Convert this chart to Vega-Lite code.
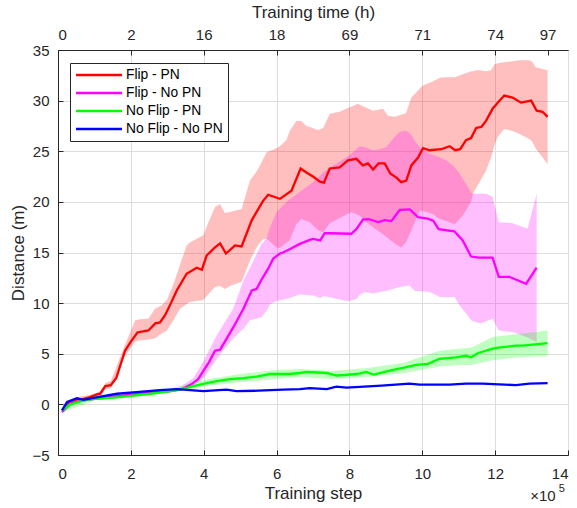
{
  "$schema": "https://vega.github.io/schema/vega-lite/v6.json",
  "width": 510,
  "height": 405,
  "autosize": {"type": "none"},
  "padding": {"left": 58, "top": 50, "right": 9, "bottom": 53},
  "background": "white",
  "config": {
    "font": "Liberation Sans",
    "view": {"stroke": "#262626", "strokeWidth": 1},
    "axis": {
      "labelFont": "Liberation Sans", "labelFontSize": 15, "labelColor": "#262626",
      "titleFont": "Liberation Sans", "titleFontSize": 17, "titleFontWeight": "normal", "titleColor": "#262626",
      "domainColor": "#262626", "tickColor": "#262626", "tickSize": -5, "gridColor": "#dedede"
    }
  },
  "datasets": {
    "bands": [
      {"s":"Flip - PN","x":0.11,"lo":-0.8,"hi":-0.4},{"s":"Flip - PN","x":0.5,"lo":0.3,"hi":0.7},{"s":"Flip - PN","x":0.9,"lo":0.5,"hi":0.95},{"s":"Flip - PN","x":1.16,"lo":0.8,"hi":1.3},{"s":"Flip - PN","x":1.3,"lo":1.5,"hi":2.1},{"s":"Flip - PN","x":1.45,"lo":1.6,"hi":2.3},{"s":"Flip - PN","x":1.84,"lo":4.8,"hi":5.9},{"s":"Flip - PN","x":2.12,"lo":6.2,"hi":8.3},{"s":"Flip - PN","x":2.25,"lo":6.3,"hi":8.4},{"s":"Flip - PN","x":2.48,"lo":6.4,"hi":8.45},{"s":"Flip - PN","x":2.66,"lo":6.5,"hi":9.45},{"s":"Flip - PN","x":2.85,"lo":7.0,"hi":9.8},{"s":"Flip - PN","x":2.99,"lo":7.3,"hi":10.3},{"s":"Flip - PN","x":3.17,"lo":8.3,"hi":11.9},{"s":"Flip - PN","x":3.35,"lo":9.45,"hi":13.8},{"s":"Flip - PN","x":3.53,"lo":9.9,"hi":15.7},{"s":"Flip - PN","x":3.62,"lo":10.1,"hi":16.0},{"s":"Flip - PN","x":3.81,"lo":10.2,"hi":16.35},{"s":"Flip - PN","x":3.99,"lo":10.3,"hi":16.7},{"s":"Flip - PN","x":4.13,"lo":10.9,"hi":18.0},{"s":"Flip - PN","x":4.31,"lo":11.6,"hi":19.5},{"s":"Flip - PN","x":4.45,"lo":11.7,"hi":19.8},{"s":"Flip - PN","x":4.58,"lo":11.4,"hi":18.9},{"s":"Flip - PN","x":4.72,"lo":11.7,"hi":19.0},{"s":"Flip - PN","x":5.04,"lo":12.1,"hi":19.3},{"s":"Flip - PN","x":5.27,"lo":14.2,"hi":22.1},{"s":"Flip - PN","x":5.45,"lo":15.5,"hi":23.0},{"s":"Flip - PN","x":5.5,"lo":15.8,"hi":23.3},{"s":"Flip - PN","x":5.63,"lo":16.3,"hi":24.2},{"s":"Flip - PN","x":5.73,"lo":16.35,"hi":24.9},{"s":"Flip - PN","x":6.0,"lo":15.5,"hi":25.3},{"s":"Flip - PN","x":6.09,"lo":15.45,"hi":25.5},{"s":"Flip - PN","x":6.27,"lo":16.0,"hi":26.1},{"s":"Flip - PN","x":6.36,"lo":16.2,"hi":27.0},{"s":"Flip - PN","x":6.54,"lo":17.8,"hi":28.0},{"s":"Flip - PN","x":6.68,"lo":18.3,"hi":28.0},{"s":"Flip - PN","x":6.82,"lo":18.1,"hi":27.5},{"s":"Flip - PN","x":6.91,"lo":18.0,"hi":27.4},{"s":"Flip - PN","x":7.14,"lo":17.2,"hi":27.1},{"s":"Flip - PN","x":7.28,"lo":17.0,"hi":27.3},{"s":"Flip - PN","x":7.46,"lo":17.9,"hi":28.7},{"s":"Flip - PN","x":7.73,"lo":18.4,"hi":28.9},{"s":"Flip - PN","x":8.0,"lo":18.9,"hi":29.35},{"s":"Flip - PN","x":8.05,"lo":19.0,"hi":29.4},{"s":"Flip - PN","x":8.23,"lo":18.7,"hi":29.7},{"s":"Flip - PN","x":8.28,"lo":18.65,"hi":29.6},{"s":"Flip - PN","x":8.46,"lo":18.0,"hi":29.3},{"s":"Flip - PN","x":8.65,"lo":17.5,"hi":29.0},{"s":"Flip - PN","x":8.92,"lo":16.8,"hi":29.2},{"s":"Flip - PN","x":9.06,"lo":16.4,"hi":28.5},{"s":"Flip - PN","x":9.24,"lo":15.9,"hi":28.4},{"s":"Flip - PN","x":9.42,"lo":15.5,"hi":28.6},{"s":"Flip - PN","x":9.55,"lo":16.0,"hi":28.75},{"s":"Flip - PN","x":9.7,"lo":17.2,"hi":30.3},{"s":"Flip - PN","x":9.93,"lo":19.15,"hi":31.2},{"s":"Flip - PN","x":10.02,"lo":19.1,"hi":31.5},{"s":"Flip - PN","x":10.29,"lo":18.8,"hi":31.9},{"s":"Flip - PN","x":10.48,"lo":18.3,"hi":32.25},{"s":"Flip - PN","x":10.62,"lo":18.15,"hi":32.3},{"s":"Flip - PN","x":10.89,"lo":17.8,"hi":32.3},{"s":"Flip - PN","x":11.11,"lo":18.65,"hi":32.6},{"s":"Flip - PN","x":11.34,"lo":20.0,"hi":32.9},{"s":"Flip - PN","x":11.39,"lo":20.8,"hi":32.9},{"s":"Flip - PN","x":11.48,"lo":21.4,"hi":33.0},{"s":"Flip - PN","x":11.57,"lo":21.95,"hi":33.0},{"s":"Flip - PN","x":11.75,"lo":23.1,"hi":32.9},{"s":"Flip - PN","x":11.89,"lo":24.4,"hi":33.0},{"s":"Flip - PN","x":11.98,"lo":25.6,"hi":33.6},{"s":"Flip - PN","x":12.07,"lo":26.4,"hi":33.7},{"s":"Flip - PN","x":12.25,"lo":27.2,"hi":33.8},{"s":"Flip - PN","x":12.48,"lo":27.0,"hi":33.9},{"s":"Flip - PN","x":12.67,"lo":26.7,"hi":34.0},{"s":"Flip - PN","x":12.94,"lo":26.2,"hi":34.0},{"s":"Flip - PN","x":13.03,"lo":25.9,"hi":33.8},{"s":"Flip - PN","x":13.11,"lo":25.3,"hi":33.3},{"s":"Flip - PN","x":13.44,"lo":23.75,"hi":33.0},
      {"s":"Flip - No PN","x":0.11,"lo":-0.9,"hi":-0.6},{"s":"Flip - No PN","x":0.5,"lo":0.2,"hi":0.4},{"s":"Flip - No PN","x":1.0,"lo":0.5,"hi":0.7},{"s":"Flip - No PN","x":2.0,"lo":0.85,"hi":1.05},{"s":"Flip - No PN","x":3.0,"lo":1.2,"hi":1.45},{"s":"Flip - No PN","x":3.3,"lo":1.3,"hi":1.6},{"s":"Flip - No PN","x":3.72,"lo":1.8,"hi":2.6},{"s":"Flip - No PN","x":4.0,"lo":2.6,"hi":4.3},{"s":"Flip - No PN","x":4.31,"lo":4.2,"hi":6.5},{"s":"Flip - No PN","x":4.54,"lo":5.4,"hi":7.9},{"s":"Flip - No PN","x":4.81,"lo":6.5,"hi":9.45},{"s":"Flip - No PN","x":5.09,"lo":7.5,"hi":12.2},{"s":"Flip - No PN","x":5.27,"lo":8.3,"hi":13.5},{"s":"Flip - No PN","x":5.59,"lo":8.6,"hi":15.85},{"s":"Flip - No PN","x":5.73,"lo":9.3,"hi":16.4},{"s":"Flip - No PN","x":5.82,"lo":9.9,"hi":17.5},{"s":"Flip - No PN","x":6.0,"lo":10.2,"hi":19.0},{"s":"Flip - No PN","x":6.27,"lo":10.4,"hi":20.0},{"s":"Flip - No PN","x":6.64,"lo":10.85,"hi":21.0},{"s":"Flip - No PN","x":7.0,"lo":10.75,"hi":21.95},{"s":"Flip - No PN","x":7.2,"lo":10.5,"hi":22.6},{"s":"Flip - No PN","x":7.28,"lo":10.7,"hi":22.9},{"s":"Flip - No PN","x":7.55,"lo":10.5,"hi":23.6},{"s":"Flip - No PN","x":7.92,"lo":10.2,"hi":24.4},{"s":"Flip - No PN","x":8.0,"lo":10.2,"hi":24.6},{"s":"Flip - No PN","x":8.19,"lo":10.4,"hi":25.2},{"s":"Flip - No PN","x":8.28,"lo":10.8,"hi":25.5},{"s":"Flip - No PN","x":8.42,"lo":11.1,"hi":25.4},{"s":"Flip - No PN","x":8.65,"lo":10.95,"hi":25.1},{"s":"Flip - No PN","x":8.83,"lo":11.1,"hi":25.2},{"s":"Flip - No PN","x":9.01,"lo":11.2,"hi":25.4},{"s":"Flip - No PN","x":9.19,"lo":11.4,"hi":26.2},{"s":"Flip - No PN","x":9.38,"lo":11.6,"hi":26.9},{"s":"Flip - No PN","x":9.55,"lo":11.7,"hi":27.05},{"s":"Flip - No PN","x":9.65,"lo":11.75,"hi":26.8},{"s":"Flip - No PN","x":9.74,"lo":11.4,"hi":26.4},{"s":"Flip - No PN","x":9.8,"lo":11.2,"hi":26.0},{"s":"Flip - No PN","x":9.93,"lo":11.2,"hi":25.4},{"s":"Flip - No PN","x":10.2,"lo":11.1,"hi":24.75},{"s":"Flip - No PN","x":10.38,"lo":10.8,"hi":24.5},{"s":"Flip - No PN","x":10.47,"lo":10.6,"hi":24.4},{"s":"Flip - No PN","x":10.65,"lo":10.6,"hi":24.1},{"s":"Flip - No PN","x":10.84,"lo":10.6,"hi":23.6},{"s":"Flip - No PN","x":10.89,"lo":10.6,"hi":23.4},{"s":"Flip - No PN","x":11.02,"lo":9.8,"hi":22.8},{"s":"Flip - No PN","x":11.2,"lo":9.0,"hi":21.8},{"s":"Flip - No PN","x":11.34,"lo":8.3,"hi":20.9},{"s":"Flip - No PN","x":11.39,"lo":8.2,"hi":20.8},{"s":"Flip - No PN","x":11.62,"lo":8.0,"hi":20.8},{"s":"Flip - No PN","x":11.75,"lo":8.2,"hi":20.8},{"s":"Flip - No PN","x":11.93,"lo":8.45,"hi":20.5},{"s":"Flip - No PN","x":12.1,"lo":7.3,"hi":18.0},{"s":"Flip - No PN","x":12.48,"lo":7.15,"hi":17.9},{"s":"Flip - No PN","x":12.89,"lo":6.6,"hi":17.35},{"s":"Flip - No PN","x":13.14,"lo":6.15,"hi":20.8},
      {"s":"No Flip - PN","x":0.11,"lo":-0.8,"hi":-0.4},{"s":"No Flip - PN","x":1.0,"lo":0.4,"hi":0.7},{"s":"No Flip - PN","x":2.0,"lo":0.7,"hi":1.0},{"s":"No Flip - PN","x":3.0,"lo":1.1,"hi":1.5},{"s":"No Flip - PN","x":4.0,"lo":1.8,"hi":2.4},{"s":"No Flip - PN","x":5.0,"lo":2.2,"hi":3.0},{"s":"No Flip - PN","x":6.0,"lo":2.5,"hi":3.4},{"s":"No Flip - PN","x":6.64,"lo":2.7,"hi":3.5},{"s":"No Flip - PN","x":7.5,"lo":2.5,"hi":3.3},{"s":"No Flip - PN","x":8.5,"lo":2.7,"hi":3.6},{"s":"No Flip - PN","x":9.5,"lo":3.1,"hi":4.1},{"s":"No Flip - PN","x":10.47,"lo":3.75,"hi":5.3},{"s":"No Flip - PN","x":11.0,"lo":3.9,"hi":5.5},{"s":"No Flip - PN","x":11.34,"lo":3.9,"hi":5.6},{"s":"No Flip - PN","x":11.93,"lo":4.35,"hi":6.65},{"s":"No Flip - PN","x":12.5,"lo":4.6,"hi":6.9},{"s":"No Flip - PN","x":13.0,"lo":4.7,"hi":7.1},{"s":"No Flip - PN","x":13.44,"lo":4.75,"hi":7.3}
    ],
    "lines": [
      {"s":"Flip - PN","x":0.11,"y":-0.6},{"s":"Flip - PN","x":0.3,"y":0.15},{"s":"Flip - PN","x":0.52,"y":0.5},{"s":"Flip - PN","x":0.7,"y":0.55},{"s":"Flip - PN","x":0.88,"y":0.72},{"s":"Flip - PN","x":1.07,"y":0.99},{"s":"Flip - PN","x":1.16,"y":1.05},{"s":"Flip - PN","x":1.3,"y":1.8},{"s":"Flip - PN","x":1.45,"y":1.9},{"s":"Flip - PN","x":1.6,"y":2.6},{"s":"Flip - PN","x":1.84,"y":5.3},{"s":"Flip - PN","x":2.0,"y":6.2},{"s":"Flip - PN","x":2.18,"y":7.1},{"s":"Flip - PN","x":2.48,"y":7.3},{"s":"Flip - PN","x":2.67,"y":8.0},{"s":"Flip - PN","x":2.8,"y":8.1},{"s":"Flip - PN","x":2.94,"y":8.8},{"s":"Flip - PN","x":3.1,"y":10.0},{"s":"Flip - PN","x":3.26,"y":11.25},{"s":"Flip - PN","x":3.53,"y":12.9},{"s":"Flip - PN","x":3.81,"y":13.5},{"s":"Flip - PN","x":3.95,"y":13.3},{"s":"Flip - PN","x":4.08,"y":14.7},{"s":"Flip - PN","x":4.31,"y":15.5},{"s":"Flip - PN","x":4.45,"y":15.9},{"s":"Flip - PN","x":4.61,"y":14.9},{"s":"Flip - PN","x":4.86,"y":15.7},{"s":"Flip - PN","x":5.04,"y":15.6},{"s":"Flip - PN","x":5.32,"y":18.2},{"s":"Flip - PN","x":5.63,"y":20.1},{"s":"Flip - PN","x":5.77,"y":20.7},{"s":"Flip - PN","x":6.09,"y":20.3},{"s":"Flip - PN","x":6.41,"y":21.1},{"s":"Flip - PN","x":6.66,"y":23.3},{"s":"Flip - PN","x":6.84,"y":22.85},{"s":"Flip - PN","x":7.0,"y":22.5},{"s":"Flip - PN","x":7.19,"y":22.0},{"s":"Flip - PN","x":7.3,"y":21.9},{"s":"Flip - PN","x":7.46,"y":23.3},{"s":"Flip - PN","x":7.73,"y":23.4},{"s":"Flip - PN","x":7.96,"y":24.1},{"s":"Flip - PN","x":8.19,"y":24.25},{"s":"Flip - PN","x":8.37,"y":23.6},{"s":"Flip - PN","x":8.51,"y":23.8},{"s":"Flip - PN","x":8.65,"y":23.2},{"s":"Flip - PN","x":8.8,"y":23.8},{"s":"Flip - PN","x":8.97,"y":23.8},{"s":"Flip - PN","x":9.12,"y":22.8},{"s":"Flip - PN","x":9.29,"y":22.4},{"s":"Flip - PN","x":9.42,"y":21.95},{"s":"Flip - PN","x":9.56,"y":22.1},{"s":"Flip - PN","x":9.7,"y":23.6},{"s":"Flip - PN","x":9.88,"y":24.35},{"s":"Flip - PN","x":10.02,"y":25.3},{"s":"Flip - PN","x":10.2,"y":25.1},{"s":"Flip - PN","x":10.52,"y":25.2},{"s":"Flip - PN","x":10.75,"y":25.5},{"s":"Flip - PN","x":10.9,"y":25.1},{"s":"Flip - PN","x":11.04,"y":25.2},{"s":"Flip - PN","x":11.2,"y":26.1},{"s":"Flip - PN","x":11.34,"y":26.3},{"s":"Flip - PN","x":11.48,"y":27.3},{"s":"Flip - PN","x":11.62,"y":27.4},{"s":"Flip - PN","x":11.75,"y":28.0},{"s":"Flip - PN","x":11.93,"y":29.2},{"s":"Flip - PN","x":12.07,"y":29.8},{"s":"Flip - PN","x":12.25,"y":30.5},{"s":"Flip - PN","x":12.48,"y":30.3},{"s":"Flip - PN","x":12.71,"y":29.8},{"s":"Flip - PN","x":12.99,"y":30.0},{"s":"Flip - PN","x":13.14,"y":29.0},{"s":"Flip - PN","x":13.3,"y":28.9},{"s":"Flip - PN","x":13.44,"y":28.4},
      {"s":"Flip - No PN","x":0.11,"y":-0.75},{"s":"Flip - No PN","x":0.34,"y":0.1},{"s":"Flip - No PN","x":0.7,"y":0.4},{"s":"Flip - No PN","x":1.0,"y":0.55},{"s":"Flip - No PN","x":1.6,"y":0.8},{"s":"Flip - No PN","x":2.0,"y":0.95},{"s":"Flip - No PN","x":2.53,"y":1.15},{"s":"Flip - No PN","x":3.08,"y":1.3},{"s":"Flip - No PN","x":3.4,"y":1.5},{"s":"Flip - No PN","x":3.67,"y":2.0},{"s":"Flip - No PN","x":3.85,"y":2.5},{"s":"Flip - No PN","x":3.99,"y":3.3},{"s":"Flip - No PN","x":4.15,"y":4.2},{"s":"Flip - No PN","x":4.31,"y":5.3},{"s":"Flip - No PN","x":4.45,"y":5.4},{"s":"Flip - No PN","x":4.63,"y":6.5},{"s":"Flip - No PN","x":4.81,"y":7.6},{"s":"Flip - No PN","x":5.09,"y":9.45},{"s":"Flip - No PN","x":5.32,"y":11.25},{"s":"Flip - No PN","x":5.45,"y":11.4},{"s":"Flip - No PN","x":5.6,"y":12.4},{"s":"Flip - No PN","x":5.77,"y":13.4},{"s":"Flip - No PN","x":5.91,"y":14.4},{"s":"Flip - No PN","x":6.09,"y":14.9},{"s":"Flip - No PN","x":6.18,"y":15.0},{"s":"Flip - No PN","x":6.4,"y":15.4},{"s":"Flip - No PN","x":6.64,"y":15.85},{"s":"Flip - No PN","x":6.91,"y":16.25},{"s":"Flip - No PN","x":7.0,"y":16.35},{"s":"Flip - No PN","x":7.2,"y":16.2},{"s":"Flip - No PN","x":7.32,"y":16.9},{"s":"Flip - No PN","x":7.46,"y":16.9},{"s":"Flip - No PN","x":8.05,"y":16.85},{"s":"Flip - No PN","x":8.19,"y":17.3},{"s":"Flip - No PN","x":8.37,"y":18.25},{"s":"Flip - No PN","x":8.53,"y":18.3},{"s":"Flip - No PN","x":8.79,"y":18.0},{"s":"Flip - No PN","x":8.97,"y":18.2},{"s":"Flip - No PN","x":9.15,"y":18.1},{"s":"Flip - No PN","x":9.38,"y":19.2},{"s":"Flip - No PN","x":9.66,"y":19.25},{"s":"Flip - No PN","x":9.88,"y":18.5},{"s":"Flip - No PN","x":10.15,"y":18.35},{"s":"Flip - No PN","x":10.3,"y":18.15},{"s":"Flip - No PN","x":10.45,"y":17.3},{"s":"Flip - No PN","x":10.88,"y":17.1},{"s":"Flip - No PN","x":11.11,"y":16.2},{"s":"Flip - No PN","x":11.34,"y":14.6},{"s":"Flip - No PN","x":11.56,"y":14.5},{"s":"Flip - No PN","x":11.93,"y":14.5},{"s":"Flip - No PN","x":12.1,"y":12.6},{"s":"Flip - No PN","x":12.39,"y":12.6},{"s":"Flip - No PN","x":12.85,"y":11.9},{"s":"Flip - No PN","x":13.14,"y":13.5},
      {"s":"No Flip - PN","x":0.11,"y":-0.6},{"s":"No Flip - PN","x":0.34,"y":0.0},{"s":"No Flip - PN","x":0.7,"y":0.4},{"s":"No Flip - PN","x":1.0,"y":0.55},{"s":"No Flip - PN","x":1.62,"y":0.7},{"s":"No Flip - PN","x":2.0,"y":0.85},{"s":"No Flip - PN","x":2.53,"y":1.05},{"s":"No Flip - PN","x":3.08,"y":1.3},{"s":"No Flip - PN","x":3.4,"y":1.5},{"s":"No Flip - PN","x":3.72,"y":1.8},{"s":"No Flip - PN","x":4.08,"y":2.1},{"s":"No Flip - PN","x":4.36,"y":2.3},{"s":"No Flip - PN","x":4.72,"y":2.5},{"s":"No Flip - PN","x":5.1,"y":2.6},{"s":"No Flip - PN","x":5.45,"y":2.75},{"s":"No Flip - PN","x":5.82,"y":3.0},{"s":"No Flip - PN","x":6.36,"y":3.0},{"s":"No Flip - PN","x":6.64,"y":3.1},{"s":"No Flip - PN","x":6.82,"y":3.2},{"s":"No Flip - PN","x":7.1,"y":3.15},{"s":"No Flip - PN","x":7.38,"y":3.1},{"s":"No Flip - PN","x":7.64,"y":2.85},{"s":"No Flip - PN","x":7.87,"y":2.9},{"s":"No Flip - PN","x":8.2,"y":3.0},{"s":"No Flip - PN","x":8.46,"y":3.2},{"s":"No Flip - PN","x":8.67,"y":2.95},{"s":"No Flip - PN","x":8.97,"y":3.2},{"s":"No Flip - PN","x":9.2,"y":3.4},{"s":"No Flip - PN","x":9.47,"y":3.6},{"s":"No Flip - PN","x":9.84,"y":3.9},{"s":"No Flip - PN","x":10.16,"y":4.0},{"s":"No Flip - PN","x":10.47,"y":4.5},{"s":"No Flip - PN","x":10.93,"y":4.65},{"s":"No Flip - PN","x":11.2,"y":4.8},{"s":"No Flip - PN","x":11.34,"y":4.65},{"s":"No Flip - PN","x":11.52,"y":5.05},{"s":"No Flip - PN","x":11.93,"y":5.5},{"s":"No Flip - PN","x":12.1,"y":5.6},{"s":"No Flip - PN","x":12.57,"y":5.8},{"s":"No Flip - PN","x":12.76,"y":5.8},{"s":"No Flip - PN","x":13.03,"y":5.9},{"s":"No Flip - PN","x":13.44,"y":6.05},
      {"s":"No Flip - No PN","x":0.11,"y":-0.6},{"s":"No Flip - No PN","x":0.25,"y":0.23},{"s":"No Flip - No PN","x":0.52,"y":0.6},{"s":"No Flip - No PN","x":0.7,"y":0.45},{"s":"No Flip - No PN","x":0.98,"y":0.65},{"s":"No Flip - No PN","x":1.62,"y":1.05},{"s":"No Flip - No PN","x":2.15,"y":1.2},{"s":"No Flip - No PN","x":2.8,"y":1.4},{"s":"No Flip - No PN","x":3.26,"y":1.5},{"s":"No Flip - No PN","x":3.99,"y":1.3},{"s":"No Flip - No PN","x":4.63,"y":1.45},{"s":"No Flip - No PN","x":4.9,"y":1.3},{"s":"No Flip - No PN","x":5.5,"y":1.35},{"s":"No Flip - No PN","x":6.18,"y":1.45},{"s":"No Flip - No PN","x":6.64,"y":1.5},{"s":"No Flip - No PN","x":6.91,"y":1.6},{"s":"No Flip - No PN","x":7.38,"y":1.5},{"s":"No Flip - No PN","x":7.64,"y":1.75},{"s":"No Flip - No PN","x":7.92,"y":1.65},{"s":"No Flip - No PN","x":8.88,"y":1.85},{"s":"No Flip - No PN","x":9.65,"y":2.05},{"s":"No Flip - No PN","x":9.93,"y":1.95},{"s":"No Flip - No PN","x":10.75,"y":1.95},{"s":"No Flip - No PN","x":11.2,"y":2.05},{"s":"No Flip - No PN","x":11.66,"y":2.05},{"s":"No Flip - No PN","x":12.57,"y":1.9},{"s":"No Flip - No PN","x":12.94,"y":2.05},{"s":"No Flip - No PN","x":13.44,"y":2.1}
    ],
    "notes": [
      {"t":"×10","x":13.31,"y":-9.0,"size":15},
      {"t":"5","x":13.83,"y":-8.4,"size":11}
    ]
  },
  "resolve": {"axis": {"x": "independent"}},
  "layer": [
    {
      "data": {"name": "bands"},
      "mark": {"type": "area", "fillOpacity": 0.25, "strokeWidth": 0},
      "encoding": {
        "x": {"field": "x", "type": "quantitative", "scale": {"domain": [0, 14], "nice": false}, "axis": null},
        "y": {"field": "lo", "type": "quantitative", "scale": {"domain": [-5, 35], "nice": false}},
        "y2": {"field": "hi"},
        "fill": {"field": "s", "type": "nominal", "legend": null,
          "scale": {"domain": ["Flip - PN", "Flip - No PN", "No Flip - PN"], "range": ["#ff0000", "#ff00ff", "#00ff00"]}}
      }
    },
    {
      "data": {"name": "lines"},
      "mark": {"type": "line", "strokeWidth": 2.3},
      "encoding": {
        "x": {"field": "x", "type": "quantitative",
          "axis": {"orient": "bottom", "values": [0, 2, 4, 6, 8, 10, 12, 14], "title": "Training step", "grid": true, "labelPadding": 16, "titlePadding": 4}},
        "y": {"field": "y", "type": "quantitative",
          "axis": {"values": [-5, 0, 5, 10, 15, 20, 25, 30, 35], "title": "Distance (m)", "grid": true, "labelPadding": 14, "titlePadding": 4}},
        "color": {"field": "s", "type": "nominal",
          "scale": {"domain": ["Flip - PN", "Flip - No PN", "No Flip - PN", "No Flip - No PN"], "range": ["#ff0000", "#ff00ff", "#00ff00", "#0000ff"]},
          "legend": {"orient": "none", "legendX": 12, "legendY": 13, "title": null, "symbolType": "M-4,0H4", "symbolSize": 132, "symbolStrokeWidth": 2.3, "symbolOffset": 17,
            "labelFontSize": 13.8, "labelFont": "Liberation Sans", "labelColor": "#000000", "labelOffset": 20, "labelExpr": "datum.label + '\u00a0\u00a0\u00a0\u00a0'",
            "strokeColor": "#262626", "fillColor": "white", "padding": 5, "rowPadding": 4}}
      }
    },
    {
      "data": {"name": "lines"},
      "mark": {"type": "point", "opacity": 0},
      "encoding": {
        "x": {"field": "x", "type": "quantitative",
          "axis": {"orient": "top", "values": [0, 2, 4, 6, 8, 10, 12, 13.44], "grid": false, "title": "Training time (h)", "labelPadding": 13, "titlePadding": 6,
            "labelExpr": "['0','2','16','18','69','71','74','97'][indexof([0,2,4,6,8,10,12,13.44], datum.value)]"}},
        "y": {"field": "y", "type": "quantitative"}
      }
    },
    {
      "data": {"name": "notes"},
      "mark": {"type": "text", "color": "#262626", "font": "Liberation Sans", "baseline": "middle", "align": "center"},
      "encoding": {
        "x": {"field": "x", "type": "quantitative", "axis": null},
        "y": {"field": "y", "type": "quantitative"},
        "text": {"field": "t"},
        "size": {"field": "size", "type": "quantitative", "scale": null}
      }
    }
  ]
}
